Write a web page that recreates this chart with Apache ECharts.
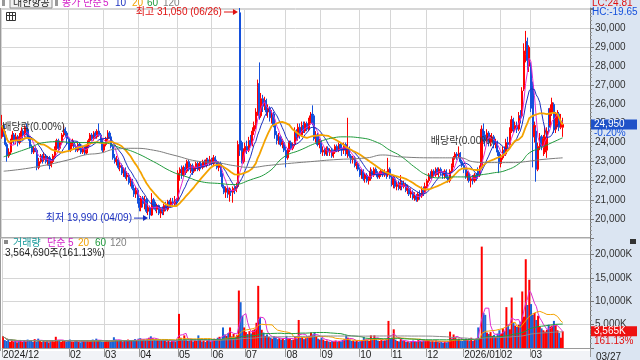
<!DOCTYPE html>
<html><head><meta charset="utf-8">
<script src="https://cdn.jsdelivr.net/npm/echarts@6/dist/echarts.min.js"></script>
<style>html,body{margin:0;padding:0;background:#fff}#c{width:640px;height:360px}</style>
</head><body><div id="c"></div>
<script>
// ---- calendar ----
const months = ['2024/12','2025/01','2025/02','2025/03','2025/04','2025/05','2025/06','2025/07','2025/08','2025/09','2025/10','2025/11','2025/12','2026/01','2026/02','2026/03'];
const tickLabels = ['2024/12','','02','03','04','05','06','07','08','09','10','11','12','2026/01','02','03'];
const tradingDays = [
 [2,3,4,5,6,9,10,11,12,13,16,17,18,19,20,23,24,26,27,30],
 [2,3,6,7,8,9,10,13,14,15,16,17,20,21,22,23,24,31],
 [3,4,5,6,7,10,11,12,13,14,17,18,19,20,21,24,25,26,27,28],
 [4,5,6,7,10,11,12,13,14,17,18,19,20,21,24,25,26,27,28,31],
 [1,2,3,4,7,8,9,10,11,14,15,16,17,18,21,22,23,24,25,28,29,30],
 [2,7,8,9,12,13,14,15,16,19,20,21,22,23,26,27,28,29,30],
 [2,4,5,9,10,11,12,13,16,17,18,19,20,23,24,25,26,27,30],
 [1,2,3,4,7,8,9,10,11,14,15,16,17,18,21,22,23,24,25,28,29,30,31],
 [1,4,5,6,7,8,11,12,13,14,18,19,20,21,22,25,26,27,28,29],
 [1,2,3,4,5,8,9,10,11,12,15,16,17,18,19,22,23,24,25,26,29,30],
 [1,2,10,13,14,15,16,17,20,21,22,23,24,27,28,29,30,31],
 [3,4,5,6,7,10,11,12,13,14,17,18,19,20,21,24,25,26,27,28],
 [1,2,3,4,5,8,9,10,11,12,15,16,17,18,19,22,23,24,26,29,30],
 [2,5,6,7,8,9,12,13,14,15,16,19,20,21,22,23,26,27,28,29,30],
 [2,3,4,5,6,9,10,11,12,13,19,20,23,24,25,26,27],
 [3,4,5,6,9,10,11,12,13,16,17,18,19,20,23,24,25,26,27]
];
// ---- OHLC [open, close, low, high] per month ----
const d2412=[[24300,24900,24200,25450],[24900,24500,24300,25000],[24500,23900,23800,24600],[23900,23300,23000,24000],[23300,23500,23200,23700],[23500,24100,23400,24200],[24100,24400,24000,24600],[24400,24100,23900,24500],[24100,24300,23900,24500],[24300,24000,23800,24400],[24000,24300,23900,24500],[24300,24600,24200,24800],[24600,24400,24200,24700],[24400,24800,24300,24900],[24800,24600,24400,25000],[24600,24200,24100,24700],[24200,23800,23700,24300],[23800,23500,23400,23900],[23500,23700,23400,23800],[23700,23600,23500,23800]];
const d2501=[[23600,22700,22550,23700],[22700,23000,22600,23200],[23000,23300,22900,23400],[23300,23100,22900,23400],[23100,23300,23000,23500],[23300,23000,22900,23400],[23000,23200,22800,23300],[23200,22800,22600,23300],[22800,23000,22700,23100],[23000,23300,22900,23400],[23300,23700,23200,23800],[23700,24100,23600,24200],[24100,23700,23500,24200],[23700,24000,23600,24100],[24000,24400,23900,24500],[24400,24700,24300,24900],[24700,24500,24300,24800],[24500,24200,23900,24600]];
const d2502=[[24200,23600,23500,24300],[23600,23900,23500,24000],[23900,24000,23800,24200],[24000,23800,23700,24100],[23800,23600,23500,23900],[23600,23900,23500,24000],[23900,23700,23600,24000],[23700,23500,23400,23800],[23500,23700,23400,23800],[23700,23450,23350,23800],[23450,23800,23400,23900],[23800,24100,23700,24200],[24100,24400,24000,24500],[24400,24200,24100,24500],[24200,24500,24100,24600],[24500,24300,24200,24600],[24300,24600,24200,24700],[24600,24400,24300,25000],[24400,24100,24000,24500],[24100,23600,23500,24200]];
const d2503=[[23600,23900,23500,24000],[23900,24200,23800,24300],[24200,24500,24100,24650],[24500,24300,24200,24600],[24300,23800,23700,24400],[23800,23200,23100,23900],[23200,23000,22900,23400],[23000,23100,22800,23300],[23100,22700,22600,23200],[22700,22800,22500,23000],[22800,22400,22300,22900],[22400,22600,22200,22700],[22600,22200,22100,22700],[22200,22300,22000,22500],[22300,21900,21800,22400],[21900,22000,21700,22200],[22000,21600,21500,22100],[21600,21300,21150,21800],[21300,21500,21100,21700],[21500,20900,20800,21600]];
const d2504=[[20900,20600,20400,21100],[20600,21100,20400,21200],[21100,20800,20600,21200],[20800,21000,20500,21200],[21000,20400,20300,21100],[20400,20600,20200,20800],[20600,20200,19990,20700],[20200,21000,20150,21350],[21000,20700,20500,21100],[20700,20500,20400,20900],[20500,20700,20300,20800],[20700,20300,20200,20750],[20300,20500,20050,20600],[20500,20400,20200,20650],[20400,20700,20200,20800],[20700,20500,20400,20900],[20500,20900,20400,21000],[20900,20700,20600,21000],[20700,20900,20600,21100],[20900,20800,20700,21100],[20800,21000,20700,21200],[21000,20900,20750,21100]];
const d2505=[[21000,22400,20950,22550],[22400,22600,22000,22700],[22600,22300,22100,22800],[22300,22700,22200,22800],[22700,22500,22300,22900],[22500,23000,22400,23100],[23000,22600,22500,23100],[22600,22800,22400,22900],[22800,22500,22300,22900],[22500,22700,22400,22800],[22700,22900,22500,23000],[22900,22600,22500,23000],[22600,22900,22500,23000],[22900,22700,22600,23000],[22700,23000,22600,23100],[23000,22800,22700,23100],[22800,23100,22700,23200],[23100,22900,22800,23200],[22900,23100,22800,23300]];
const d2506=[[23100,22900,22800,23200],[22900,23200,22800,23350],[23200,23000,22900,23300],[23000,22700,22600,23100],[22700,22900,22500,23000],[22900,22300,22200,23000],[22300,21700,21600,22400],[21700,21400,21300,21800],[21400,21600,21100,21700],[21600,21300,21100,21700],[21300,21500,20900,21650],[21500,21400,21200,21600],[21400,21600,20850,21700],[21600,21500,21300,21700],[21500,21700,21400,21900],[21700,23900,21600,24100],[30800,23600,23300,31050],[24000,23000,22900,24100],[23000,23500,22900,23700]];
const d2507=[[23500,23800,23300,24000],[23800,23600,23400,24100],[23600,24100,23500,24300],[24100,23900,23800,24400],[23900,24600,23800,24800],[24600,24900,24400,25100],[24900,25600,24700,25800],[25600,26900,25400,27300],[27100,25400,25200,28200],[25400,26300,25300,26600],[26300,25900,25600,26500],[25900,26200,25700,26400],[26200,25600,25400,26300],[25600,25800,25300,26000],[25800,25300,25100,25900],[25300,25500,25000,25700],[25500,24900,24800,25600],[24900,24400,24200,25000],[24400,24100,23900,24600],[24100,24300,23900,24500],[24300,23900,23800,24400],[23900,24000,23700,24200],[24000,23600,23500,24100]];
const d2508=[[23600,23200,22700,23800],[23200,23600,23100,23700],[23600,24000,23500,24100],[24000,23700,23600,24100],[23700,23900,23600,24000],[23900,24600,23800,24800],[24600,24300,24100,24700],[24300,24800,24100,25000],[24800,24400,24200,25000],[24400,24900,24300,25100],[24900,24600,24500,25100],[24600,25000,24500,25100],[25000,24700,24600,25100],[24700,25100,24600,25300],[25100,25400,25000,25600],[25500,25000,24900,25950],[25400,24200,24100,25500],[24200,24400,24000,24600],[24400,23900,23800,24500],[23900,24100,23700,24200]];
const d2509=[[24100,23500,23400,24200],[23500,23600,23300,23800],[23600,23400,23300,23700],[23400,23700,23300,23800],[23700,23500,23300,23800],[23500,23600,23300,23700],[23600,23300,23200,23700],[23300,23500,23200,23600],[23500,23800,23400,23900],[23800,23600,23500,23900],[23600,23900,23500,24000],[23900,23700,23600,24000],[23700,23600,23300,23800],[23600,23900,23400,24000],[23900,23500,23300,24000],[23400,23700,23200,25300],[23700,23300,23200,23800],[23300,23100,22900,23400],[23100,23200,22900,23300],[23200,22800,22700,23300],[22800,22900,22600,23000],[22900,22600,22500,23000]];
const d2510=[[22600,22300,22200,22700],[22300,22500,22100,22600],[22500,22100,22000,22600],[22100,22300,21900,22400],[22300,22000,21900,22400],[22000,22100,21800,22200],[22100,22500,22000,22700],[22500,22300,22100,22600],[22300,22600,22200,22700],[22600,22400,22300,22700],[22400,22200,22100,22500],[22200,22300,22100,22500],[22300,22500,22200,22600],[22500,22300,22200,22600],[22300,22400,22200,22600],[22400,22300,22100,22500],[22300,22600,22200,23200],[22600,22200,22100,22700]];
const d2511=[[22200,21800,21700,22300],[21800,22100,21600,22300],[22100,21700,21600,22200],[21700,21800,21500,22000],[21800,21600,21500,22000],[21600,21900,21500,22300],[21900,21700,21500,22000],[21700,21800,21600,22000],[21800,21500,21400,21900],[21500,21600,21300,21800],[21600,21300,21200,21700],[21300,21400,21100,21600],[21400,21100,21000,21500],[21100,21200,20950,21400],[21200,21000,20900,21300],[21000,21300,20900,21400],[21300,21200,21000,21500],[21200,21500,21100,21700],[21500,21400,21200,21700],[21400,21700,21300,21900]];
const d2512=[[21700,22000,21600,22100],[22000,22300,21900,22400],[22300,22200,22100,22500],[22200,22500,22100,22600],[22500,22300,22200,22600],[22300,22600,22200,22700],[22600,22400,22300,22700],[22400,22600,22200,22700],[22600,22400,22300,22700],[22400,22300,22100,22500],[22300,22500,22100,22600],[22500,22200,22100,22600],[22200,22000,21900,22300],[22000,22500,21900,22600],[22500,22800,22400,22900],[22800,23200,22700,23300],[23200,23400,23100,23500],[23400,23300,23100,23500],[23300,23450,23200,23800],[23400,23000,22900,23500],[23000,22800,22700,23100]];
const d2601=[[22800,22600,22400,22900],[22600,22200,22100,22700],[22200,22400,22000,22500],[22400,22000,21900,22500],[22000,22100,21650,22200],[22100,22000,21800,22300],[22000,22300,21900,22400],[22300,22200,22000,22400],[22500,22300,22100,22700],[22300,22600,22200,22800],[22700,24700,22600,24900],[24700,24200,24000,25000],[24400,24100,23800,24600],[24100,24500,24000,24700],[24500,24000,23800,24600],[24000,24200,23800,24400],[24200,24300,24000,24500],[24300,23900,23700,24400],[23900,24000,23700,24200],[24000,23500,23300,24100],[23500,22900,22400,23600]];
const d2602=[[22900,23200,22700,23400],[23200,23600,23100,23800],[23600,23400,23300,23800],[23400,24000,23300,24200],[24000,23900,23700,24300],[23900,24600,23800,24800],[24600,25200,24500,25400],[25200,24700,24500,25300],[24700,24900,24600,25100],[24900,24700,24500,25100],[24700,25400,24600,25600],[25400,25300,25000,25700],[25400,26700,25300,26900],[26800,28800,26700,29200],[28600,29300,28200,29850],[29300,28300,27800,29500],[28000,29000,27700,29100]];
const d2603=[[28000,25800,25600,28200],[27000,24300,22700,27200],[24300,24900,24000,25100],[24600,22600,21950,24800],[22600,23800,22500,24000],[23800,24300,23600,24500],[24300,23800,23600,24400],[23800,24200,23300,24400],[23500,24300,23400,24800],[23600,24600,23200,24800],[25600,24800,24500,25800],[24900,25800,24800,26000],[25600,26100,25400,26350],[26000,24700,24500,26100],[24700,25300,24500,25600],[25000,25500,24800,25700],[25500,24800,24600,25600],[24800,25000,24700,25500],[24800,24950,24300,25300]];
// ---- volume (thousand shares) per month ----
const v2412=[2500,1700,1500,1800,1300,1600,1400,1500,1200,1700,1500,1300,1600,1400,1800,1500,1600,1300,1900,1400];
const v2501=[2000,1600,1300,1500,1400,1600,1200,1500,1700,1400,2400,1600,1500,1300,1700,1600,1400,1500];
const v2502=[1800,1400,1300,1500,1600,1300,1200,1400,1500,1300,1600,1400,1500,1800,1600,2000,1500,1700,1400,1300];
const v2503=[1400,1600,1500,1300,1500,2300,1800,1700,1500,1600,1400,1700,1500,1800,1600,1500,1700,1900,1600,2000];
const v2504=[2100,1800,1900,1700,2000,2200,2500,2100,1800,1600,1700,1500,1600,1800,1500,1400,1600,1300,1500,1700,1400,1600];
const v2505=[7300,2200,1700,2700,1800,1500,1600,1900,1400,1600,1500,2700,1800,1400,1600,1300,1500,1700,1400];
const v2506=[1600,2000,1800,2200,2400,2000,4400,2900,2600,3200,4400,2500,3000,2400,2800,12300,9800,6900,4400];
const v2507=[3400,3000,3600,3100,3800,4000,5400,13300,6500,3900,3300,2600,2900,2400,2200,2000,2500,2300,1900,2100,1800,2000,1700];
const v2508=[2600,1900,2000,1700,1800,2400,2000,6000,2200,2300,1900,2100,2400,2600,3300,2900,3300,2500,2000,1800];
const v2509=[2200,1800,1500,1600,1400,1300,1500,1400,1600,1300,1500,1400,1700,1900,2700,2200,1800,1500,1600,1400,1500,1300];
const v2510=[1500,1600,2300,1800,1700,1500,2700,1900,2700,2000,1600,1500,1700,1500,1600,1700,5800,2000];
const v2511=[2200,4000,1800,1500,1400,1900,1600,1500,1300,1400,1200,1500,1600,1400,1300,1700,1500,1400,1600,1500];
const v2512=[1700,1600,1400,1500,1300,1600,1400,1200,1300,1100,1400,1200,1500,3500,2000,2900,2300,1800,2000,1600,1500];
const v2601=[1800,2000,1700,1600,2200,1500,1800,1700,4400,2000,21700,7500,7100,3300,3000,3400,2600,2800,2400,3100,3800];
const v2602=[3000,4200,3600,8750,5000,4000,10800,5400,4800,4500,5000,5600,12100,6700,19000,9200,14600];
const v2603=[9400,7100,7500,6000,6900,4500,4200,3800,3500,3900,5000,4600,4800,5800,5000,3800,3200,2200,3565];
// ---- long moving averages (index, value) ----
const ma60Idx=[1,15,24,32,41,56,68,75,86,97,105,113,124,131,141,151,160,169,179,188,194,203,213,220,226,235,241,248,256,264,271,278,286,294,299,305,312,318];
const ma60Val=[23250,23700,24000,24050,24000,24000,23700,23500,23000,22450,22200,21950,21850,21800,22050,22450,23250,23600,24000,24250,24300,24250,24000,23600,23300,22650,22300,22150,22200,22200,22300,22400,22550,22950,23450,23700,24000,24250];
const ma120Idx=[1,18,38,47,56,64,75,86,97,113,122,131,141,151,162,175,188,207,216,226,248,260,267,275,290,297,305,318];
const ma120Val=[22500,22700,23100,23350,23450,23650,23700,23600,23350,23000,22950,22800,22700,22800,22900,23000,23100,23200,23350,23250,23200,23200,23000,22950,22950,23000,23100,23200];

const UP='#ff0000', DOWN='#1450dc';
const FONT="'Liberation Sans Narrow','Liberation Sans','Noto Sans CJK KR',sans-serif";
const candles=[].concat(d2412,d2501,d2502,d2503,d2504,d2505,d2506,d2507,d2508,d2509,d2510,d2511,d2512,d2601,d2602,d2603);
const vols=[].concat(v2412,v2501,v2502,v2503,v2504,v2505,v2506,v2507,v2508,v2509,v2510,v2511,v2512,v2601,v2602,v2603);
const cats=[], labelAt={};
months.forEach((m,k)=>{tradingDays[k].forEach((d,j)=>{ if(j===0 && tickLabels[k]) labelAt[cats.length]=tickLabels[k]; cats.push(m+'/'+String(d).padStart(2,'0'));});});
const N=cats.length;
for(let k=0;k<15;k++) cats.push('pad'+k);
const closes=candles.map(c=>c[1]);
function ma(a,n){return a.map((_,i)=>{let s=0,c=0;for(let k=Math.max(0,i-n+1);k<=i;k++){s+=a[k];c++;}return +(s/c).toFixed(1);});}
const isTick=(i)=>labelAt[i]!==undefined;
const pairs=(ix,vv)=>ix.map((x,k)=>[x,vv[k]]);
const line=(data,color,w,xi,yi,smooth)=>({type:'line',data,xAxisIndex:xi,yAxisIndex:yi,symbol:'none',smooth:!!smooth,lineStyle:{color,width:w},z:5,silent:true,animation:false});
const grid0={left:1,right:50,top:8,height:230};
const grid1={left:1,right:50,top:238,height:113};
const VMAX=23542;
const option={
 animation:false,
 grid:[grid0,grid1],
 xAxis:[
  {type:'category',data:cats,gridIndex:0,boundaryGap:true,axisLine:{show:false},axisTick:{show:false},axisLabel:{show:false},
   splitLine:{show:true,interval:(i)=>isTick(i),lineStyle:{color:'#d6d6d6',width:1}}},
  {type:'category',data:cats,gridIndex:1,boundaryGap:true,axisLine:{show:true,lineStyle:{color:'#9a9a9a'}},
   axisTick:{show:true,interval:(i)=>isTick(i),length:9,lineStyle:{color:'#9a9a9a'}},
   axisLabel:{interval:(i)=>isTick(i),formatter:(v,i)=>labelAt[i]||'',align:'left',margin:2,fontSize:10,color:'#222',fontFamily:FONT},
   splitLine:{show:true,interval:(i)=>isTick(i),lineStyle:{color:'#d6d6d6',width:1}}}
 ],
 yAxis:[
  {type:'value',gridIndex:0,position:'right',min:19000,max:31050,interval:1000,
   axisLine:{show:true,lineStyle:{color:'#777'}},axisTick:{show:true,length:4,lineStyle:{color:'#777'}},
   minorTick:{show:true,splitNumber:5,length:2,lineStyle:{color:'#999'}},
   axisLabel:{showMinLabel:false,showMaxLabel:false,fontSize:10,color:'#333',margin:5,fontFamily:FONT,
     formatter:v=>(v%1000===0&&v>=20000&&v<=30000)?v.toLocaleString('en-US'):''},
   splitLine:{show:true,lineStyle:{color:'#d6d6d6'}}},
  {type:'value',gridIndex:1,position:'right',min:0,max:VMAX,interval:5000,
   axisLine:{show:true,lineStyle:{color:'#777'}},axisTick:{show:true,length:4,lineStyle:{color:'#777'}},
   minorTick:{show:true,splitNumber:5,length:2,lineStyle:{color:'#999'}},
   axisLabel:{showMinLabel:false,showMaxLabel:false,fontSize:10,color:'#333',margin:5,fontFamily:FONT,
     formatter:v=>(v>0&&v%5000===0)?v.toLocaleString('en-US')+'K':''},
   splitLine:{show:true,lineStyle:{color:'#d6d6d6'}}}
 ],
 series:[
  {type:'candlestick',data:candles,xAxisIndex:0,yAxisIndex:0,barWidth:1.6,z:3,
   itemStyle:{color:UP,color0:DOWN,borderColor:UP,borderColor0:DOWN,borderWidth:1}},
  line(ma(closes,5),'#e02ad0',1,0,0),
  line(ma(closes,10),'#1a2fc0',1,0,0),
  line(ma(closes,20),'#f4a300',1.8,0,0),
  line(pairs(ma60Idx,ma60Val),'#1f9a3c',1,0,0,true),
  line(pairs(ma120Idx,ma120Val),'#7c7c7c',1,0,0,true),
  {type:'bar',xAxisIndex:1,yAxisIndex:1,barWidth:2,z:3,
   data:vols.map((v,i)=>({value:v,itemStyle:{color:candles[i][1]>=candles[i][0]?UP:'#1b63d6'}}))},
  line(ma(vols,5),'#e02ad0',1,1,1),
  line(ma(vols,20),'#f4a300',1,1,1),
  line(ma(vols,60),'#1f9a3c',1,1,1),
  line(ma(vols,120),'#8a8a8a',1,1,1)
 ]
};
const chart=echarts.init(document.getElementById('c'),null,{renderer:'canvas'});
chart.setOption(option);
const P=(i,v)=>chart.convertToPixel({xAxisIndex:0,yAxisIndex:0},[i,v]);
const PV=(i,v)=>chart.convertToPixel({xAxisIndex:1,yAxisIndex:1},[i,v]);
const T=(x,y,text,fill,opt)=>Object.assign({type:'text',x,y,z:50,style:Object.assign({text,fill,font:'10px '+FONT,textVerticalAlign:'middle'},opt||{})});
const hiIdx=cats.indexOf('2025/06/26'), loIdx=cats.indexOf('2025/04/09');
const hi=P(hiIdx,31050), lo=P(loIdx,19990);
const last=N-1;
const pLast=P(last,24950);
const vLast=PV(last,3565);
const dv1=P(cats.indexOf('2024/12/27'),24800), dv2=P(cats.indexOf('2025/12/30'),24050);
const g=[
 {type:'rect',shape:{x:590,y:0,width:50,height:360},style:{fill:'#dbe5f2'},z:-5},
 {type:'rect',shape:{x:0,y:351,width:590,height:9},style:{fill:'#f1f3f7'},z:-5},
 {type:'line',shape:{x1:0.5,y1:8,x2:0.5,y2:351},style:{stroke:'#9a9a9a',lineWidth:1},z:40},
 {type:'line',shape:{x1:0,y1:237.5,x2:590,y2:237.5},style:{stroke:'#aaaaaa',lineWidth:1},z:40},
 // header
 {type:'rect',shape:{x:10,y:-2,width:42,height:10},style:{fill:'#f2f2f2',stroke:'#8c8c8c'},z:45},
 T(13,3,'대한항공','#222'),
 {type:'rect',shape:{x:2,y:0,width:3,height:6},style:{fill:'#999'},z:45},
 {type:'rect',shape:{x:55,y:0,width:3,height:6},style:{fill:'#999'},z:45},
 T(62,3,'종가 단순','#d21fc8'),
 T(103,3,'5','#d21fc8'),T(115,3,'10','#1a2fc0'),T(132,3,'20','#f0a000'),T(147,3,'60','#1f9a3c'),T(163,3,'120','#808080'),
 T(592,3,'LC:24.81','#e01010'),T(592,12,'HC:-19.65','#1450dc'),
 {type:'rect',shape:{x:6.5,y:12.5,width:9,height:8},style:{fill:'#fff',stroke:'#333'},z:45},
 {type:'line',shape:{x1:6.5,y1:15.5,x2:15.5,y2:15.5},style:{stroke:'#333'},z:46},
 {type:'line',shape:{x1:9.5,y1:12.5,x2:9.5,y2:20.5},style:{stroke:'#333'},z:46},
 {type:'line',shape:{x1:12.5,y1:12.5,x2:12.5,y2:20.5},style:{stroke:'#333'},z:46},
 // high / low annotations
 T(hi[0]-18,hi[1]+4,'최고 31,050 (06/26)','#e01010',{textAlign:'right'}),
 {type:'line',shape:{x1:hi[0]-16,y1:hi[1]+4,x2:hi[0]-4,y2:hi[1]+4},style:{stroke:'#e01010',lineWidth:1},z:50},
 {type:'polygon',shape:{points:[[hi[0]-2,hi[1]+4],[hi[0]-7,hi[1]+1],[hi[0]-7,hi[1]+7]]},style:{fill:'#e01010'},z:50},
 T(lo[0]-18,lo[1]-1,'최저 19,990 (04/09)','#1a2fc0',{textAlign:'right'}),
 {type:'line',shape:{x1:lo[0]-16,y1:lo[1]-1,x2:lo[0]-4,y2:lo[1]-1},style:{stroke:'#1a2fc0',lineWidth:1},z:50},
 {type:'polygon',shape:{points:[[lo[0]-2,lo[1]-1],[lo[0]-7,lo[1]-4],[lo[0]-7,lo[1]+2]]},style:{fill:'#1a2fc0'},z:50},
 T(dv1[0],dv1[1],'배당락(0.00%)','#333',{textAlign:'center'}),
 T(dv2[0],dv2[1],'배당락(0.00%)','#333',{textAlign:'center'}),
 // current price
 {type:'rect',shape:{x:591,y:pLast[1]-5,width:46,height:10},style:{fill:'#1f52c8'},z:50},
 T(594,pLast[1],'24,950','#fff'),
 T(594,pLast[1]+9,'-0.20%','#1450dc'),
 // volume panel legend
 {type:'rect',shape:{x:4,y:240,width:4,height:4},style:{fill:'#888'},z:45},
 T(13,243,'거래량','#17999a'),T(47,243,'단순','#d21fc8'),T(68,243,'5','#d21fc8'),T(78,243,'20','#f0a000'),T(95,243,'60','#1f9a3c'),T(110,243,'120','#808080'),
 T(5,253,'3,564,690주(161.13%)','#222'),
 {type:'rect',shape:{x:630,y:239,width:6,height:5},style:{fill:'#333'},z:45},
 {type:'rect',shape:{x:591,y:vLast[1]-5,width:46,height:10},style:{fill:'#ee1111'},z:50},
 T(594,vLast[1],'3,565K','#fff'),
 T(594,vLast[1]+10,'161.13%','#e01010'),
 T(596,357,'03/27','#222')
];
chart.setOption({graphic:g});
</script></body></html>
